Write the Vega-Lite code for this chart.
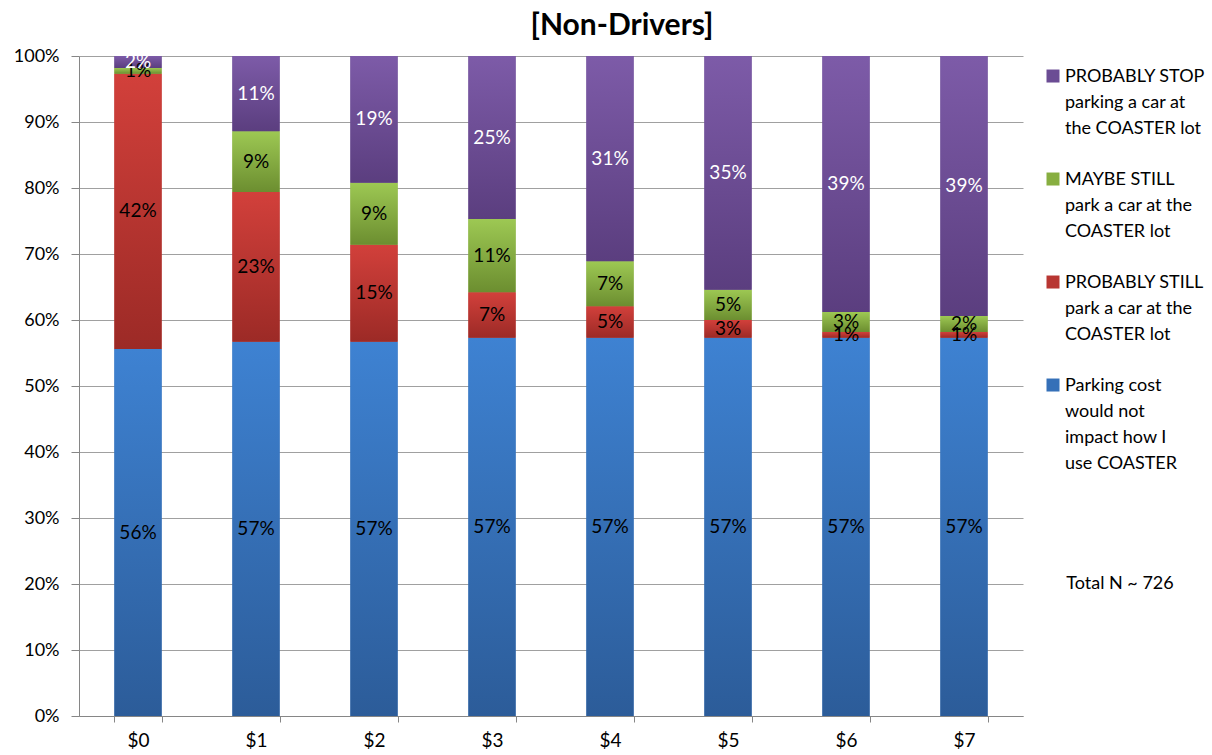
{
  "$schema": "https://vega.github.io/schema/vega-lite/v6.json",
  "width": 944,
  "height": 660,
  "autosize": "none",
  "padding": {"left": 79, "top": 56, "right": 189, "bottom": 39},
  "background": "white",
  "title": {"text": "[Non-Drivers]", "font": "Lato", "fontSize": 30, "fontWeight": "bold", "color": "#000000", "anchor": "middle", "dx": 71, "offset": 6},
  "datasets": {
    "d": [
      {"cost": "$0", "k": 1, "series": "Parking cost would not impact how I use COASTER", "pct": 0.556},
      {"cost": "$0", "k": 2, "series": "PROBABLY STILL park a car at the COASTER lot", "pct": 0.417},
      {"cost": "$0", "k": 3, "series": "MAYBE STILL park a car at the COASTER lot", "pct": 0.009},
      {"cost": "$0", "k": 4, "series": "PROBABLY STOP parking a car at the COASTER lot", "pct": 0.018},
      {"cost": "$1", "k": 1, "series": "Parking cost would not impact how I use COASTER", "pct": 0.567},
      {"cost": "$1", "k": 2, "series": "PROBABLY STILL park a car at the COASTER lot", "pct": 0.227},
      {"cost": "$1", "k": 3, "series": "MAYBE STILL park a car at the COASTER lot", "pct": 0.092},
      {"cost": "$1", "k": 4, "series": "PROBABLY STOP parking a car at the COASTER lot", "pct": 0.114},
      {"cost": "$2", "k": 1, "series": "Parking cost would not impact how I use COASTER", "pct": 0.567},
      {"cost": "$2", "k": 2, "series": "PROBABLY STILL park a car at the COASTER lot", "pct": 0.147},
      {"cost": "$2", "k": 3, "series": "MAYBE STILL park a car at the COASTER lot", "pct": 0.094},
      {"cost": "$2", "k": 4, "series": "PROBABLY STOP parking a car at the COASTER lot", "pct": 0.192},
      {"cost": "$3", "k": 1, "series": "Parking cost would not impact how I use COASTER", "pct": 0.573},
      {"cost": "$3", "k": 2, "series": "PROBABLY STILL park a car at the COASTER lot", "pct": 0.069},
      {"cost": "$3", "k": 3, "series": "MAYBE STILL park a car at the COASTER lot", "pct": 0.111},
      {"cost": "$3", "k": 4, "series": "PROBABLY STOP parking a car at the COASTER lot", "pct": 0.247},
      {"cost": "$4", "k": 1, "series": "Parking cost would not impact how I use COASTER", "pct": 0.573},
      {"cost": "$4", "k": 2, "series": "PROBABLY STILL park a car at the COASTER lot", "pct": 0.048},
      {"cost": "$4", "k": 3, "series": "MAYBE STILL park a car at the COASTER lot", "pct": 0.068},
      {"cost": "$4", "k": 4, "series": "PROBABLY STOP parking a car at the COASTER lot", "pct": 0.311},
      {"cost": "$5", "k": 1, "series": "Parking cost would not impact how I use COASTER", "pct": 0.573},
      {"cost": "$5", "k": 2, "series": "PROBABLY STILL park a car at the COASTER lot", "pct": 0.027},
      {"cost": "$5", "k": 3, "series": "MAYBE STILL park a car at the COASTER lot", "pct": 0.046},
      {"cost": "$5", "k": 4, "series": "PROBABLY STOP parking a car at the COASTER lot", "pct": 0.354},
      {"cost": "$6", "k": 1, "series": "Parking cost would not impact how I use COASTER", "pct": 0.573},
      {"cost": "$6", "k": 2, "series": "PROBABLY STILL park a car at the COASTER lot", "pct": 0.009},
      {"cost": "$6", "k": 3, "series": "MAYBE STILL park a car at the COASTER lot", "pct": 0.030},
      {"cost": "$6", "k": 4, "series": "PROBABLY STOP parking a car at the COASTER lot", "pct": 0.388},
      {"cost": "$7", "k": 1, "series": "Parking cost would not impact how I use COASTER", "pct": 0.573},
      {"cost": "$7", "k": 2, "series": "PROBABLY STILL park a car at the COASTER lot", "pct": 0.009},
      {"cost": "$7", "k": 3, "series": "MAYBE STILL park a car at the COASTER lot", "pct": 0.024},
      {"cost": "$7", "k": 4, "series": "PROBABLY STOP parking a car at the COASTER lot", "pct": 0.394}
    ],
    "note": [{"t": "Total N ~ 726"}]
  },
  "layer": [
    {
      "data": {"name": "d"},
      "transform": [
        {"stack": "pct", "groupby": ["cost"], "sort": [{"field": "k", "order": "ascending"}], "as": ["y0", "y1"]}
      ],
      "mark": {"type": "bar"},
      "encoding": {
        "x": {
          "field": "cost", "type": "nominal",
          "scale": {"paddingInner": 0.6, "paddingOuter": 0.3},
          "axis": {"title": null, "tickBand": "extent", "tickSize": 6, "labelPadding": 9, "labelAngle": 0, "labelFont": "Lato", "labelFontSize": 19, "labelColor": "#000000", "domainColor": "#868686", "tickColor": "#868686", "grid": false}
        },
        "y": {
          "field": "y0", "type": "quantitative",
          "scale": {"domain": [0, 1], "nice": false},
          "axis": {"title": null, "format": ".0%", "values": [0, 0.1, 0.2, 0.3, 0.4, 0.5, 0.6, 0.7, 0.8, 0.9, 1], "grid": true, "gridColor": "#a0a0a0", "domainColor": "#868686", "tickColor": "#868686", "tickSize": 8, "labelPadding": 12, "labelFont": "Lato", "labelFontSize": 18, "labelColor": "#000000"}
        },
        "y2": {"field": "y1"},
        "fill": {
          "field": "series", "type": "nominal",
          "scale": {
            "domain": ["PROBABLY STOP parking a car at the COASTER lot", "MAYBE STILL park a car at the COASTER lot", "PROBABLY STILL park a car at the COASTER lot", "Parking cost would not impact how I use COASTER"],
            "range": ["#6B4C94", "#87AE40", "#B83632", "#3570B8"]
          },
          "legend": {
            "title": null,
            "orient": "none",
            "legendX": 965,
            "legendY": 17,
            "padding": 0,
            "symbolType": "M-1,-1.92H1V0.08H-1Z",
            "symbolSize": 169,
            "symbolStrokeWidth": 0,
            "labelFont": "Lato",
            "labelFontSize": 18,
            "labelColor": "#000000",
            "labelBaseline": "alphabetic",
            "labelLimit": 300,
            "labelOffset": 3,
            "rowPadding": 33,
            "labelExpr": "datum.label == 'PROBABLY STOP parking a car at the COASTER lot' ? ['PROBABLY STOP', 'parking a car at', 'the COASTER lot'] : datum.label == 'MAYBE STILL park a car at the COASTER lot' ? ['MAYBE STILL', 'park a car at the', 'COASTER lot'] : datum.label == 'PROBABLY STILL park a car at the COASTER lot' ? ['PROBABLY STILL', 'park a car at the', 'COASTER lot'] : ['Parking cost', 'would not', 'impact how I', 'use COASTER']"
          }
        }
      }
    },
    {
      "data": {"name": "d"},
      "transform": [
        {"stack": "pct", "groupby": ["cost"], "sort": [{"field": "k", "order": "ascending"}], "as": ["y0", "y1"]}
      ],
      "mark": {"type": "bar"},
      "encoding": {
        "x": {"field": "cost", "type": "nominal"},
        "y": {"field": "y0", "type": "quantitative"},
        "y2": {"field": "y1"},
        "fill": {
          "condition": [
            {"test": "datum.k == 1", "value": {"gradient": "linear", "x1": 0, "y1": 0, "x2": 0, "y2": 1, "stops": [{"offset": 0, "color": "#3E82D2"}, {"offset": 1, "color": "#2C5C99"}]}},
            {"test": "datum.k == 2", "value": {"gradient": "linear", "x1": 0, "y1": 0, "x2": 0, "y2": 1, "stops": [{"offset": 0, "color": "#D2403B"}, {"offset": 1, "color": "#9C2A26"}]}},
            {"test": "datum.k == 3", "value": {"gradient": "linear", "x1": 0, "y1": 0, "x2": 0, "y2": 1, "stops": [{"offset": 0, "color": "#9DC853"}, {"offset": 1, "color": "#6C8E30"}]}}
          ],
          "value": {"gradient": "linear", "x1": 0, "y1": 0, "x2": 0, "y2": 1, "stops": [{"offset": 0, "color": "#7D5BA8"}, {"offset": 1, "color": "#5B3E7F"}]}
        }
      }
    },
    {
      "data": {"name": "d"},
      "transform": [
        {"stack": "pct", "groupby": ["cost"], "sort": [{"field": "k", "order": "ascending"}], "as": ["y0", "y1"]},
        {"calculate": "(datum.y0 + datum.y1) / 2", "as": "mid"}
      ],
      "mark": {"type": "text", "font": "Lato", "fontSize": 19, "baseline": "middle", "align": "center"},
      "encoding": {
        "x": {"field": "cost", "type": "nominal"},
        "y": {"field": "mid", "type": "quantitative"},
        "text": {"field": "pct", "type": "quantitative", "format": ".0%"},
        "color": {"condition": {"test": "datum.k == 4", "value": "#ffffff"}, "value": "#000000"}
      }
    },
    {
      "data": {"name": "note"},
      "mark": {"type": "text", "font": "Lato", "fontSize": 18, "align": "center", "baseline": "middle", "dx": 156, "color": "#000000"},
      "encoding": {
        "x": {"datum": "$7", "type": "nominal"},
        "y": {"datum": 0.2, "type": "quantitative"},
        "text": {"field": "t", "type": "nominal"}
      }
    }
  ],
  "config": {
    "view": {"stroke": null},
    "font": "Lato",
    "style": {"guide-label": {"lineHeight": 26}}
  }
}
